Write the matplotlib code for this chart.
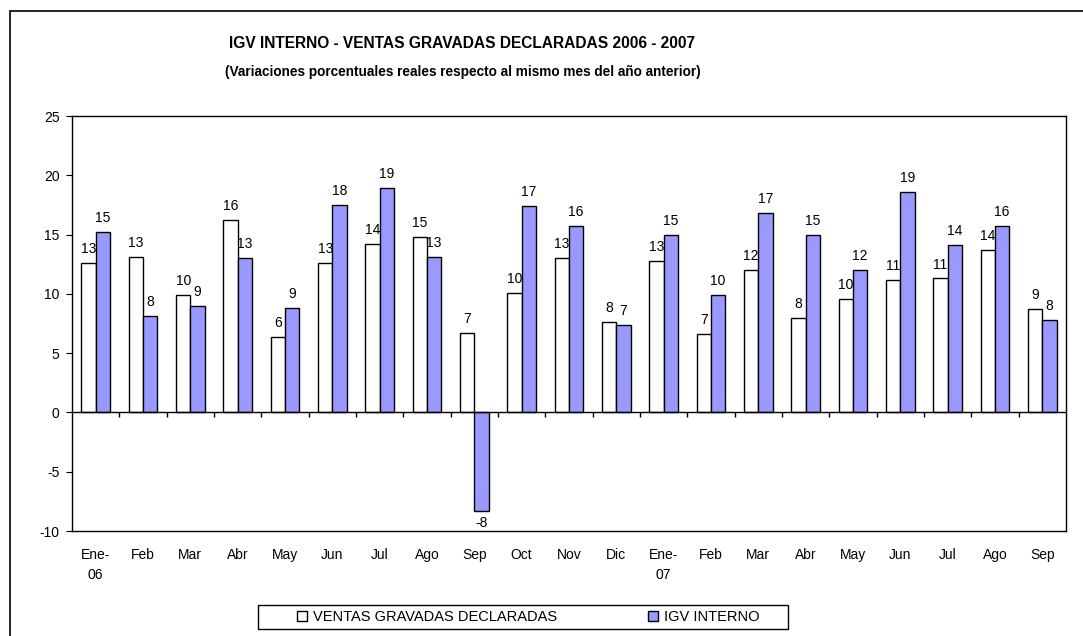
import matplotlib.pyplot as plt
import numpy as np
from matplotlib.patches import Rectangle

# months shown on the x axis (two-line label for january)
months = ['Ene-\n06', 'Feb', 'Mar', 'Abr', 'May', 'Jun', 'Jul', 'Ago', 'Sep', 'Oct',
          'Nov', 'Dic', 'Ene-\n07', 'Feb', 'Mar', 'Abr', 'May', 'Jun', 'Jul', 'Ago', 'Sep']

# real % change vs same month previous year
ventas = [12.6, 13.1, 9.9, 16.2, 6.4, 12.6, 14.2, 14.8, 6.7, 10.1, 13.0,
          7.6, 12.8, 6.6, 12.0, 8.0, 9.6, 11.2, 11.3, 13.7, 8.7]
igv = [15.2, 8.1, 9.0, 13.0, 8.8, 17.5, 18.9, 13.1, -8.3, 17.4, 15.7,
       7.4, 15.0, 9.9, 16.8, 15.0, 12.0, 18.6, 14.1, 15.7, 7.8]

yticks = [-10, -5, 0, 5, 10, 15, 20, 25]

plt.rcParams['font.family'] = ['Liberation Sans', 'DejaVu Sans']
plt.rcParams['axes.unicode_minus'] = False

fig = plt.figure(figsize=(10.83, 6.36), dpi=100)
ax = fig.add_axes([0.0665, 0.165, 0.9178, 0.6526])

x = np.arange(len(months))
w = 0.30
b1 = ax.bar(x - w / 2, ventas, w, color='white', edgecolor='black', linewidth=1,
            label='VENTAS GRAVADAS DECLARADAS', zorder=3)
b2 = ax.bar(x + w / 2, igv, w, color='#9999FF', edgecolor='black', linewidth=1,
            label='IGV INTERNO', zorder=3)

for bars, vals in [(b1, ventas), (b2, igv)]:
    for rect, v in zip(bars, vals):
        cx = rect.get_x() + rect.get_width() / 2
        if v >= 0:
            ax.annotate(f'{v:.0f}', (cx, v), xytext=(0, 5), textcoords='offset points',
                        ha='center', va='bottom', fontsize=10)
        else:
            ax.annotate(f'{v:.0f}', (cx, v), xytext=(0, -4), textcoords='offset points',
                        ha='center', va='top', fontsize=10)

# zero line with ticks between categories
ax.axhline(0, color='black', linewidth=1, zorder=4)
ax.vlines(x[:-1] + 0.5, -0.35, 0, color='black', linewidth=1, zorder=4)

ax.set_xlim(-0.5, len(months) - 0.5)
ax.set_ylim(-10, 25)
ax.set_yticks(yticks)
ax.set_xticks(x)
ax.set_xticklabels(months, fontsize=10, linespacing=1.6)
ax.tick_params(axis='x', length=0, pad=12)
ax.tick_params(axis='y', direction='out', length=4, labelsize=10, pad=5)
for s in ax.spines.values():
    s.set_color('black')
    s.set_linewidth(1)

fig.text(0.427, 0.932, 'IGV INTERNO - VENTAS GRAVADAS DECLARADAS 2006 - 2007',
         ha='center', va='center', fontsize=11.2, fontweight='bold')
fig.text(0.427, 0.887, '(Variaciones porcentuales reales respecto al mismo mes del año anterior)',
         ha='center', va='center', fontsize=9.8, fontweight='bold')

leg = fig.legend(handles=[b1, b2], loc='center', ncol=2,
                 bbox_to_anchor=(528 / 1083, 1 - 617 / 636),
                 fontsize=10.5, handlelength=0.7, handleheight=0.7, handletextpad=0.4,
                 columnspacing=6.2, frameon=False, borderaxespad=0)

# legend box drawn separately (wider than its entries)
fig.patches.append(Rectangle((258 / 1083, 1 - 629 / 636), 530 / 1083, 24 / 636,
                             transform=fig.transFigure, fill=False,
                             edgecolor='black', linewidth=1))

# outer chart border
fig.patches.append(Rectangle((10 / 1083, -0.05), 1.1, 1 - 11 / 636 + 0.05,
                             transform=fig.transFigure, fill=False,
                             edgecolor='black', linewidth=1.2))

fig.savefig('out.png', dpi=100)
